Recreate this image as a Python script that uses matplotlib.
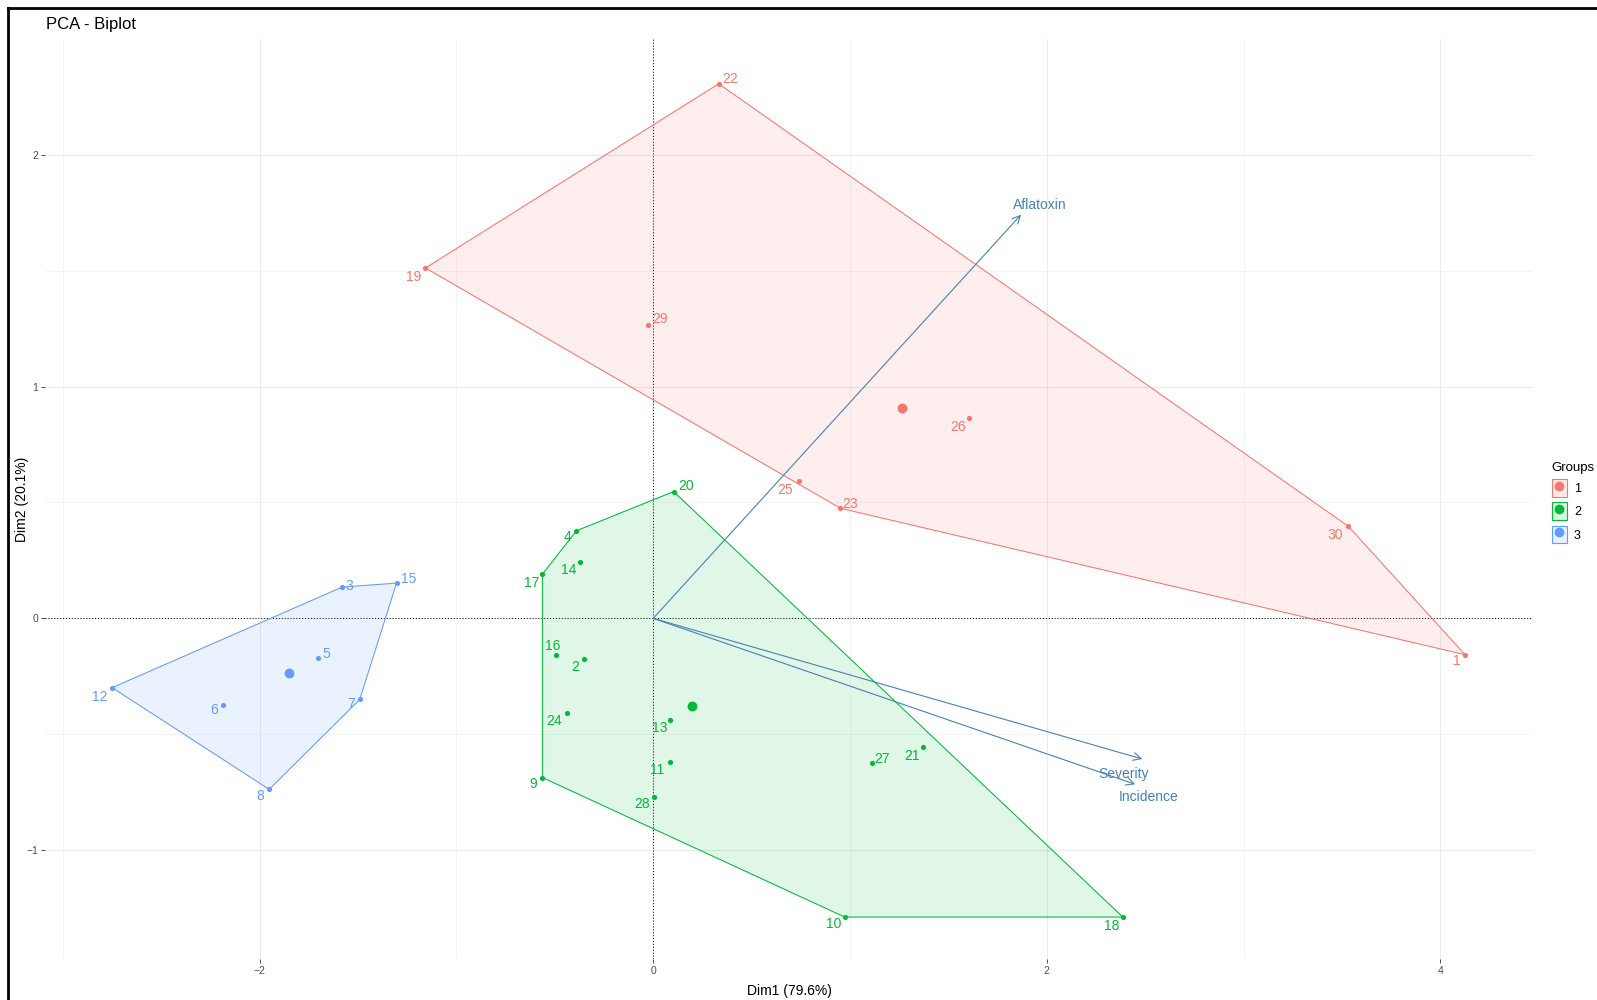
import numpy as np
import matplotlib
matplotlib.use("Agg")
import matplotlib.pyplot as plt
from matplotlib.patches import Polygon, Patch
from matplotlib.lines import Line2D
from matplotlib.legend_handler import HandlerTuple
from matplotlib.colors import to_rgba

plt.rcParams['font.family'] = ['Liberation Sans', 'DejaVu Sans']

# individuals: id, Dim1, Dim2, group
ind_id = [1, 2, 3, 4, 5, 6, 7, 8, 9, 10, 11, 12, 13, 14, 15,
          16, 17, 18, 19, 20, 21, 22, 23, 24, 25, 26, 27, 28, 29, 30]
dim1 = [4.125, -0.353, -1.580, -0.390, -1.702, -2.188, -1.491, -1.951, -0.563, 0.973,
        0.084, -2.749, 0.087, -0.370, -1.304, -0.492, -0.563, 2.386, -1.157, 0.104,
        1.372, 0.333, 0.951, -0.436, 0.741, 1.607, 1.111, 0.006, -0.026, 3.532]
dim2 = [-0.157, -0.174, 0.135, 0.378, -0.169, -0.375, -0.350, -0.738, -0.687, -1.289,
        -0.619, -0.299, -0.438, 0.244, 0.152, -0.157, 0.190, -1.289, 1.512, 0.547,
        -0.556, 2.307, 0.475, -0.409, 0.594, 0.863, -0.626, -0.770, 1.267, 0.397]
group = [1, 2, 3, 2, 3, 3, 3, 3, 2, 2, 2, 3, 2, 2, 3,
         2, 2, 2, 1, 2, 2, 1, 1, 2, 1, 1, 2, 2, 1, 1]

# variables (arrows)
var_names = ['Aflatoxin', 'Severity', 'Incidence']
var_dim1 = [1.869, 2.485, 2.449]
var_dim2 = [1.742, -0.607, -0.716]

group_names = ['1', '2', '3']
colors = {1: '#F8766D', 2: '#00BA38', 3: '#619CFF'}
arrow_col = '#4682B4'

# label offsets in pixels (dx right, dy down), mimics repel placement
lab_off = {1: (-8, 6), 2: (-9, 8), 3: (7, -1), 4: (-9, 6), 5: (8, -4), 6: (-8, 5),
           7: (-9, 5), 8: (-9, 7), 9: (-9, 6), 10: (-11, 7), 11: (-13, 8), 12: (-12, 9),
           13: (-11, 8), 14: (-12, 8), 15: (12, -4), 16: (-4, -9), 17: (-11, 9),
           18: (-11, 9), 19: (-12, 9), 20: (12, -6), 21: (-11, 9), 22: (11, -5),
           23: (10, -4), 24: (-13, 8), 25: (-14, 9), 26: (-11, 9), 27: (10, -4),
           28: (-12, 7), 29: (12, -6), 30: (-13, 9)}
var_off = {'Aflatoxin': (19, -10), 'Severity': (-19, 15), 'Incidence': (13, 13)}


def hull(pts):
    pts = sorted(map(tuple, pts))
    def cross(o, a, b):
        return (a[0]-o[0])*(b[1]-o[1]) - (a[1]-o[1])*(b[0]-o[0])
    lower, upper = [], []
    for p in pts:
        while len(lower) >= 2 and cross(lower[-2], lower[-1], p) <= 0:
            lower.pop()
        lower.append(p)
    for p in reversed(pts):
        while len(upper) >= 2 and cross(upper[-2], upper[-1], p) <= 0:
            upper.pop()
        upper.append(p)
    return np.array(lower[:-1] + upper[:-1])


fig = plt.figure(figsize=(15.97, 10), dpi=100)
ax = fig.add_axes([45/1597, 1-959/1000, (1533-45)/1597, (959-39)/1000])

x = np.array(dim1)
y = np.array(dim2)
g = np.array(group)

ax.set_xlim(-3.09, 4.47)
ax.set_ylim(-1.47, 2.50)
ax.set_xticks([-2, 0, 2, 4])
ax.set_yticks([-1, 0, 1, 2])
ax.set_xticks([-3, -1, 1, 3], minor=True)
ax.set_yticks([-0.5, 0.5, 1.5], minor=True)
ax.grid(True, which='major', color='#EBEBEB', lw=0.8)
ax.grid(True, which='minor', color='#F2F2F2', lw=0.6)
ax.set_axisbelow(True)
for s in ax.spines.values():
    s.set_visible(False)
ax.tick_params(which='major', length=3, width=0.6, color='#333333',
               labelsize=7.5, labelcolor='#4D4D4D', pad=2)
ax.tick_params(which='minor', length=0)

ax.axhline(0, color='black', lw=0.7, ls=(0, (1, 2)), zorder=1)
ax.axvline(0, color='black', lw=0.7, ls=(0, (1, 2)), zorder=1)

handles = []
for k in [1, 2, 3]:
    m = g == k
    c = colors[k]
    h = hull(np.column_stack([x[m], y[m]]))
    ax.add_patch(Polygon(h, closed=True, facecolor=c, alpha=0.12, edgecolor='none', zorder=2))
    ax.add_patch(Polygon(h, closed=True, facecolor='none', edgecolor=c, lw=0.75, zorder=3))
    ax.scatter(x[m], y[m], s=14, color=c, zorder=4, linewidths=0)
    ax.scatter([x[m].mean()], [y[m].mean()], s=50, color=c, zorder=4, linewidths=0)
    handles.append((Patch(facecolor=to_rgba(c, 0.15), edgecolor=c, lw=0.8),
                    Line2D([], [], marker='o', ls='', color=c, markersize=6)))

for i, lab in enumerate(ind_id):
    dx, dy = lab_off[lab]
    ax.annotate(str(lab), (x[i], y[i]), xytext=(dx, -dy), textcoords='offset pixels',
                ha='center', va='center', fontsize=10, color=colors[group[i]], zorder=5)

for n, vx, vy in zip(var_names, var_dim1, var_dim2):
    ax.annotate('', xy=(vx, vy), xytext=(0, 0),
                arrowprops=dict(arrowstyle='->', color=arrow_col, lw=0.8,
                                mutation_scale=14, shrinkA=0, shrinkB=0), zorder=6)
    dx, dy = var_off[n]
    ax.annotate(n, (vx, vy), xytext=(dx, -dy), textcoords='offset pixels',
                ha='center', va='center', fontsize=10, color=arrow_col, zorder=6)

ax.set_xlabel('Dim1 (79.6%)', fontsize=10, labelpad=6)
ax.set_ylabel('Dim2 (20.1%)', fontsize=10, va='center')
ax.yaxis.set_label_coords(-0.0152, 0.5)

fig.text(46/1597, 1-25/1000, 'PCA - Biplot', fontsize=12, ha='left', va='center')

leg = fig.legend(handles, group_names, title='Groups', loc='upper left',
                 bbox_to_anchor=(1549/1597, 1-459/1000), frameon=False,
                 handler_map={tuple: HandlerTuple(ndivide=1, pad=0)},
                 handlelength=1.2, handleheight=1.8, labelspacing=0.45,
                 fontsize=9, title_fontsize=9.5, handletextpad=0.6,
                 borderpad=0.2, borderaxespad=0)
leg._legend_box.align = 'left'

# outer black frame (left and top edges visible)
fig.add_artist(Line2D([8/1597, 8/1597], [0, 1-8/1000], transform=fig.transFigure,
                      color='black', lw=2))
fig.add_artist(Line2D([8/1597, 1], [1-8/1000, 1-8/1000], transform=fig.transFigure,
                      color='black', lw=2))

fig.savefig('out.png', dpi=100)
